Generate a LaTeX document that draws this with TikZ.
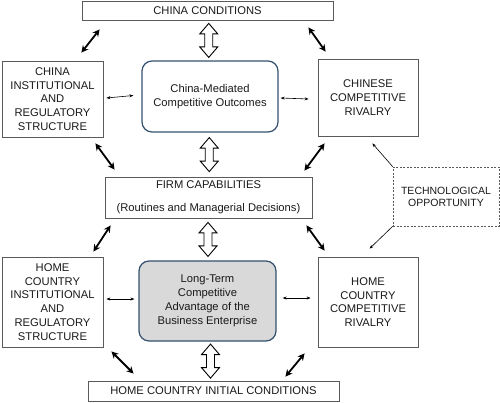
\documentclass[tikz,border=0pt]{standalone}
\usepackage{fontspec}
\setmainfont{Liberation Sans}
\usetikzlibrary{calc,arrows.meta}
\definecolor{boxline}{HTML}{5A5A5A}
\definecolor{roundline}{HTML}{34506F}
\definecolor{ltfill}{HTML}{D9D9D9}
\tikzset{
  box/.style={draw=boxline, line width=0.8pt, inner sep=0pt, align=center,
    font=\fontsize{11.2}{13.8}\selectfont, text=black!90},
  rbox/.style={box, draw=roundline, line width=1.2pt, rounded corners=10pt},
  dbox/.style={box, dashed, dash pattern=on 2pt off 1.5pt, line width=0.6pt,
    font=\fontsize{10.5}{12}\selectfont},
  thick2/.style={line width=1.8pt, {Stealth[length=7pt,width=7pt]}-{Stealth[length=7pt,width=7pt]}},
  thin2/.style={line width=0.6pt, {Stealth[length=4pt,width=3pt]}-{Stealth[length=4pt,width=3pt]}},
  thin1/.style={line width=0.6pt, -{Stealth[length=4pt,width=3pt]}},
  hollow/.pic={\draw[line width=0.9pt, fill=white, line join=miter]
    (0,-17) -- (9,-6.5) -- (4,-6.5) -- (4,6.5) -- (9,6.5) -- (0,17)
    -- (-9,6.5) -- (-4,6.5) -- (-4,-6.5) -- (-9,-6.5) -- cycle;}
}
\begin{document}
\begin{tikzpicture}[x=1pt,y=-1pt]
\useasboundingbox (0,0) rectangle (500,402);
\node[box, minimum width=251, minimum height=19] (cc) at (207.5,10.5) {CHINA CONDITIONS};
\node[box, minimum width=101, minimum height=76] (ci) at (52.5,99) {CHINA\\INSTITUTIONAL\\AND\\REGULATORY\\STRUCTURE};
\node[rbox, minimum width=136, minimum height=71] (cm) at (210,96.5) {China-Mediated\\Competitive Outcomes};
\node[box, minimum width=100, minimum height=77] (cr) at (368,97.5) {CHINESE\\COMPETITIVE\\RIVALRY};
\node[box, minimum width=207, minimum height=41] (fc) at (208.5,197.5) {FIRM CAPABILITIES\\[9pt](Routines and Managerial Decisions)};
\node[dbox, minimum width=106, minimum height=59] (to) at (446,196.5) {TECHNOLOGICAL\\OPPORTUNITY};
\node[box, minimum width=101, minimum height=90] (hi) at (52.5,302) {HOME\\COUNTRY\\INSTITUTIONAL\\AND\\REGULATORY\\STRUCTURE};
\node[rbox, fill=ltfill, minimum width=137, minimum height=80] (lt) at (207.5,301) {Long-Term\\Competitive\\Advantage of the\\Business Enterprise};
\node[box, minimum width=100, minimum height=90] (hr) at (368,302) {HOME\\COUNTRY\\COMPETITIVE\\RIVALRY};
\node[box, minimum width=251, minimum height=20] (hc) at (213.5,391) {HOME COUNTRY INITIAL CONDITIONS};

% hollow double arrows
\pic at ($(cc.south)!0.5!(cm.north)$) {hollow};
\pic at ($(cm.south)!0.5!(fc.north)$) {hollow};
\pic at ($(fc.south)!0.5!(lt.north)$) {hollow};
\pic at ($(lt.south)!0.5!(hc.north)$) {hollow};

% thick diagonal arrows
\draw[thick2] ($(cc.south west)+(18,9)$) -- ($(ci.north east)+(-22,-8)$);
\draw[thick2] ($(cc.south east)+(-25,7)$) -- ($(cr.north west)+(8,-7)$);
\draw[thick2] ($(ci.south east)+(-8,6)$) -- ($(fc.north west)+(10,-7)$);
\draw[thick2] ($(cr.south west)+(7,7)$) -- ($(fc.north east)+(-8,-6)$);
\draw[thick2] ($(fc.south west)+(6,7)$) -- ($(hi.north east)+(-10,-5)$);
\draw[thick2] ($(fc.south east)+(-6,7)$) -- ($(hr.north west)+(7,-6)$);
\draw[thick2] ($(hi.south east)+(8,4)$) -- ($(hc.north west)+(46,-7)$);
\draw[thick2] ($(hr.south west)+(-13,6)$) -- ($(hc.north east)+(-54,-4)$);

% thin horizontal arrows
\draw[thin2] ($(ci.east)+(3,-1)$) -- ($(cm.west)+(-8,-1)$);
\draw[thin2] ($(cm.east)+(2,1.5)$) -- ($(cr.west)+(-9,1.5)$);
\draw[thin2] ($(hi.east)+(3,-3)$) -- ($(lt.west)+(-4,-2)$);
\draw[thin2] ($(lt.east)+(6,-3)$) -- ($(hr.west)+(-7,-4)$);

% technological opportunity
\draw[thin1] (to.north west) -- ($(cr.south east)+(-46,7)$);
\draw[thin1] (to.south west) -- ($(hr.north west)+(52,-8)$);
\end{tikzpicture}
\end{document}
